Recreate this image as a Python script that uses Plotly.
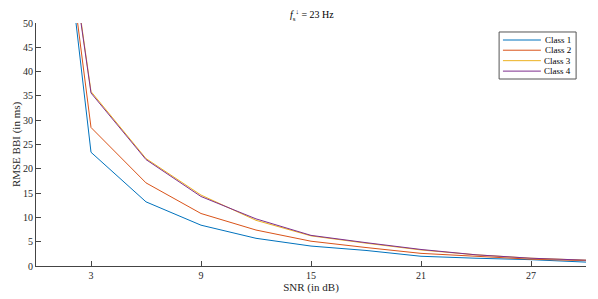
import plotly.graph_objects as go

snr = [0, 3, 6, 9, 12, 15, 18, 21, 24, 27, 30]
class1 = [121, 23.4, 13.2, 8.4, 5.7, 4.1, 3.2, 2.0, 1.6, 1.3, 0.8]
class2 = [117, 28.5, 17.1, 10.8, 7.4, 5.1, 3.8, 2.6, 2.0, 1.4, 1.1]
class3 = [116, 35.9, 22.1, 14.6, 9.4, 6.2, 4.7, 3.3, 2.3, 1.6, 1.2]
class4 = [115, 35.6, 21.9, 14.3, 9.7, 6.3, 4.8, 3.4, 2.3, 1.6, 1.2]
names = ["Class 1", "Class 2", "Class 3", "Class 4"]
colors = ["#0072BD", "#D95319", "#EDB120", "#7E2F8E"]
xticks = [3, 9, 15, 21, 27]
yticks = [0, 5, 10, 15, 20, 25, 30, 35, 40, 45, 50]

fig = go.Figure()
for name, ys, c in zip(names, [class1, class2, class3, class4], colors):
    fig.add_trace(go.Scatter(x=snr, y=ys, mode="lines", name=name,
                             line=dict(color=c, width=1), showlegend=False))

# manual legend (box, sample lines, labels) in paper coordinates
fig.add_shape(type="rect", xref="paper", yref="paper", x0=0.842, x1=0.982,
              y0=0.7695, y1=0.963, line=dict(color="#555", width=1),
              fillcolor="white", layer="above")
leg_y = [0.930, 0.888, 0.845, 0.802]
for name, c, yy in zip(names, colors, leg_y):
    fig.add_shape(type="line", xref="paper", yref="paper", x0=0.849, x1=0.918,
                  y0=yy, y1=yy, line=dict(color=c, width=1), layer="above")
    fig.add_annotation(xref="paper", yref="paper", x=0.977, y=yy, text=name,
                       showarrow=False, xanchor="right", yanchor="middle",
                       font=dict(size=9, color="#000"))

font = "Liberation Serif, Times New Roman, serif"
fig.update_layout(
    width=590, height=291,
    margin=dict(l=28, r=12, t=15, b=33),
    paper_bgcolor="white", plot_bgcolor="white",
    font=dict(family=font, size=10, color="#262626"),
    title=dict(text="<i>f</i><sub>s</sub><sup>↓</sup> = 23 Hz", x=0.515, xanchor="center",
               y=0.976, yanchor="middle", font=dict(size=10, family=font, color="#000")),
    showlegend=False,
    xaxis=dict(range=[0, 30], tickvals=xticks, ticks="inside", ticklen=5,
               tickcolor="#444", showline=True, linecolor="#444", linewidth=1,
               showgrid=False, zeroline=False, mirror=False, automargin=False,
               title=dict(text="SNR (in dB)", standoff=0, font=dict(size=11))),
    yaxis=dict(range=[0, 50], tickvals=yticks, ticks="inside", ticklen=5,
               tickcolor="#444", showline=True, linecolor="#444", linewidth=1,
               showgrid=False, zeroline=False, mirror=False, automargin=False,
               title=dict(text="RMSE BBI (in ms)", standoff=0, font=dict(size=11))),
)
fig.write_html("out.html")
